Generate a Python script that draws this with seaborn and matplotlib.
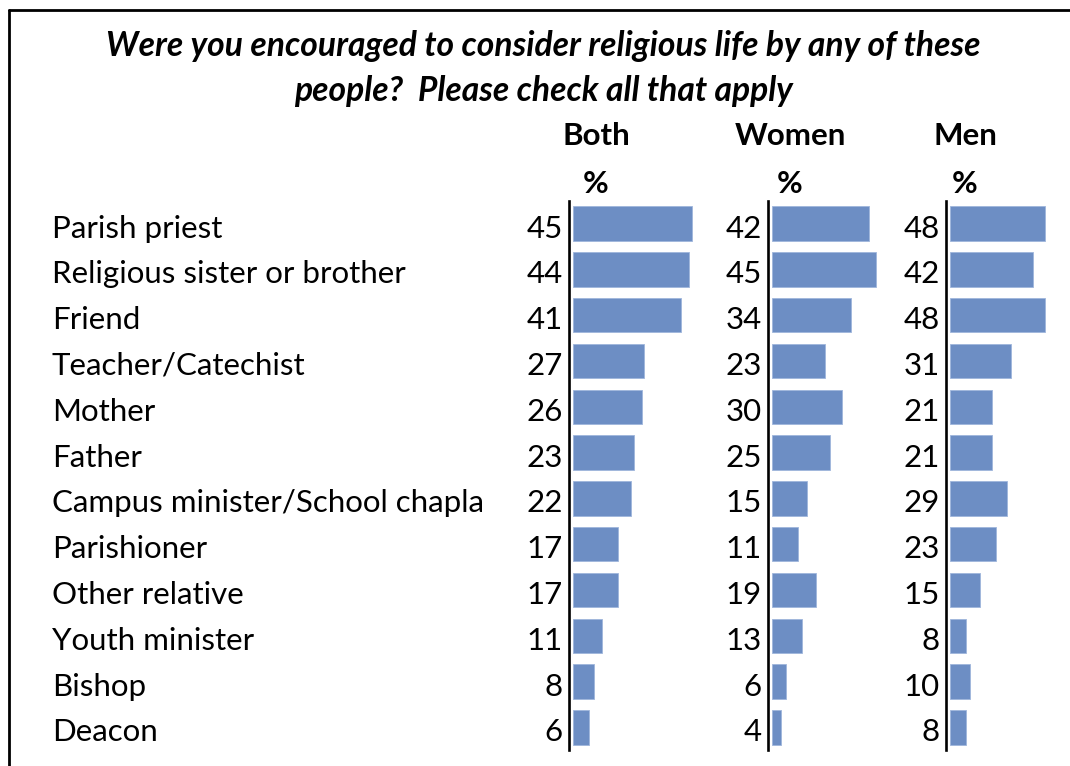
import numpy as np
import pandas as pd
import matplotlib
matplotlib.use("Agg")
import matplotlib.pyplot as plt
import matplotlib.transforms as mtransforms
from matplotlib.lines import Line2D
import seaborn as sns

sources = [
    "Parish priest", "Religious sister or brother", "Friend", "Teacher/Catechist",
    "Mother", "Father", "Campus minister/School chapla", "Parishioner",
    "Other relative", "Youth minister", "Bishop", "Deacon",
]
both = [45, 44, 41, 27, 26, 23, 22, 17, 17, 11, 8, 6]
women = [42, 45, 34, 23, 30, 25, 15, 11, 19, 13, 6, 4]
men = [48, 42, 48, 31, 21, 21, 29, 23, 15, 8, 10, 8]
groups = ["Both", "Women", "Men"]

df = pd.DataFrame({"source": sources * 3,
                   "pct": both + women + men,
                   "group": np.repeat(groups, len(sources))})

sns.set_style("white")
plt.rcParams["font.family"] = ["Lato", "DejaVu Sans"]
plt.rcParams["text.color"] = "black"

W, H = 1070, 766
fig = plt.figure(figsize=(W / 100, H / 100), dpi=100)

bar_color = "#6D8EC4"
fs = 22.5
top_px, bot_px = 200.6, 750.4
# left line position (px), px per percentage point, axes width (px)
cols = {"Both": (569, 2.64, 130), "Women": (768, 2.32, 130), "Men": (946, 1.98, 124)}
head_x = {"Both": 596, "Women": 790, "Men": 965}

axes = {}
for g in groups:
    x0, scale, wpx = cols[g]
    ax = fig.add_axes([x0 / W, 1 - bot_px / H, wpx / W, (bot_px - top_px) / H])
    sub = df[df["group"] == g]
    sns.barplot(data=sub, x="pct", y="source", ax=ax, color=bar_color,
                width=0.75, saturation=1, edgecolor="#9FB6DC", linewidth=0.6)
    ax.set_xlim(-4 / scale, -4 / scale + wpx / scale)
    ax.set_ylim(11.5, -0.5)
    ax.set_xticks([])
    ax.set_yticks([])
    ax.set_xlabel("")
    ax.set_ylabel("")
    for s in ["top", "right", "bottom"]:
        ax.spines[s].set_visible(False)
    ax.spines["left"].set_color("black")
    ax.spines["left"].set_linewidth(1.9)
    axes[g] = ax

    # value labels just left of the axis line
    vt = mtransforms.offset_copy(
        mtransforms.blended_transform_factory(ax.transAxes, ax.transData),
        fig=fig, x=-6, y=-5, units="dots")
    for i, v in enumerate(sub["pct"]):
        ax.text(0, i, str(v), transform=vt, ha="right", va="center", fontsize=fs)

    fig.text(head_x[g] / W, 1 - 136 / H, g, ha="center", va="center",
             fontsize=fs, fontweight="bold")
    fig.text(head_x[g] / W, 1 - 184 / H, "%", ha="center", va="center",
             fontsize=fs, fontweight="bold")

trans = mtransforms.offset_copy(
    mtransforms.blended_transform_factory(fig.transFigure, axes["Both"].transData),
    fig=fig, x=0, y=-5, units="dots")
for i, s in enumerate(sources):
    axes["Both"].text(52 / W, i, s, transform=trans, ha="left", va="center",
                      fontsize=fs)

fig.text(543 / W, 1 - 46 / H, "Were you encouraged to consider religious life by any of these",
         ha="center", va="center", fontsize=24.2, fontweight="bold", style="italic")
fig.text(543 / W, 1 - 91 / H, "people?  Please check all that apply",
         ha="center", va="center", fontsize=24.2, fontweight="bold", style="italic")

fig.add_artist(Line2D([9 / W, 1], [1 - 10 / H, 1 - 10 / H], color="black", lw=2,
                      transform=fig.transFigure))
fig.add_artist(Line2D([9 / W, 9 / W], [1 - 10 / H, 0], color="black", lw=2,
                      transform=fig.transFigure))

fig.savefig("out.png", dpi=100)
